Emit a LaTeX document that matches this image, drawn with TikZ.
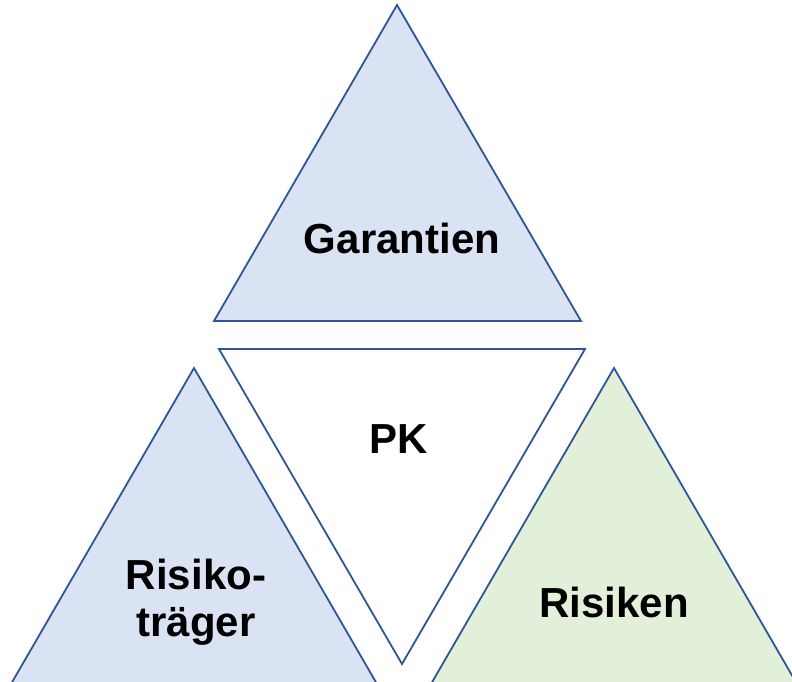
\documentclass[tikz,border=0pt]{standalone}
\usepackage{fontspec}
\setmainfont{Liberation Sans}
\usepackage{xcolor}
\definecolor{triblue}{HTML}{DAE3F3}
\definecolor{trigreen}{HTML}{E2F0D9}
\definecolor{triline}{HTML}{2F5597}

\begin{document}
\begin{tikzpicture}[x=1pt, y=-1pt, tri/.style={draw=triline, line width=1.8pt, line join=miter}, bigtext/.style={font=\fontsize{42}{47}\selectfont\bfseries, inner sep=0, align=center}]
\useasboundingbox (0,0) rectangle (792,681);
\clip (0,0) rectangle (792,681);
%triangles
\draw[tri, fill=triblue] (397,5) -- (581,321) -- (214,321) -- cycle;
\draw[tri, fill=white] (219,349) -- (585,349) -- (402,664) -- cycle;
\draw[tri, fill=triblue] (194,368) -- (377,684) -- (11,684) -- cycle;
\draw[tri, fill=trigreen] (614,368) -- (797,684) -- (431,684) -- cycle;
%labels
\node[bigtext, anchor=base] (garantien) at (402,253) {Garantien};
\node[bigtext, anchor=base] (pk) at (399,453) {PK};
\node[bigtext] (traeger) at (196,602) {Risiko-\\träger};
\node[bigtext, anchor=base] (risiken) at (614,617) {Risiken};
\end{tikzpicture}
\end{document}
